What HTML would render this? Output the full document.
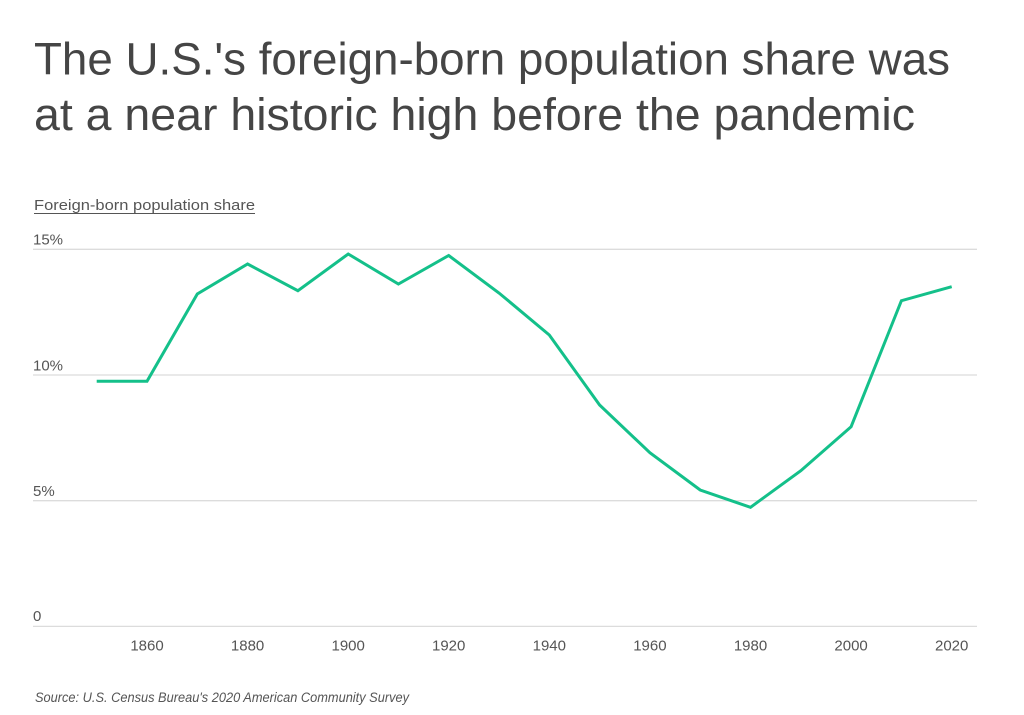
<!DOCTYPE html>
<html>
<head>
<meta charset="utf-8">
<style>
  html, body { margin: 0; padding: 0; background: #ffffff; }
  body { width: 1024px; height: 715px; overflow: hidden; }
  svg { display: block; }
  text { font-family: "Liberation Sans", Arial, sans-serif; }
</style>
</head>
<body>
<svg width="1024" height="715" viewBox="0 0 1024 715" xmlns="http://www.w3.org/2000/svg">
  <rect x="0" y="0" width="1024" height="715" fill="#ffffff"/>

  <!-- Title -->
  <text x="34" y="74.5" font-size="45" fill="#454545" textLength="916" lengthAdjust="spacingAndGlyphs">The U.S.'s foreign-born population share was</text>
  <text x="34" y="130" font-size="45" fill="#454545" textLength="881" lengthAdjust="spacingAndGlyphs">at a near historic high before the pandemic</text>

  <!-- Axis title -->
  <text x="34" y="210" font-size="15" fill="#555555" textLength="221" lengthAdjust="spacingAndGlyphs">Foreign-born population share</text>
  <line x1="34" y1="213.5" x2="255" y2="213.5" stroke="#555555" stroke-width="1"/>

  <!-- Gridlines -->
  <g stroke="#dcdcdc" stroke-width="1.3">
    <line x1="33" y1="249.3" x2="977" y2="249.3"/>
    <line x1="33" y1="375" x2="977" y2="375"/>
    <line x1="33" y1="500.7" x2="977" y2="500.7"/>
    <line x1="33" y1="626.4" x2="977" y2="626.4"/>
  </g>

  <!-- Y labels -->
  <g font-size="15" fill="#555555">
    <text x="33" y="244.5">15%</text>
    <text x="33" y="370.5">10%</text>
    <text x="33" y="496">5%</text>
    <text x="33" y="621">0</text>
  </g>

  <!-- X labels -->
  <g font-size="15" fill="#555555" text-anchor="middle">
    <text x="147" y="650.5">1860</text>
    <text x="247.6" y="650.5">1880</text>
    <text x="348.2" y="650.5">1900</text>
    <text x="448.7" y="650.5">1920</text>
    <text x="549.3" y="650.5">1940</text>
    <text x="649.9" y="650.5">1960</text>
    <text x="750.5" y="650.5">1980</text>
    <text x="851.1" y="650.5">2000</text>
    <text x="951.7" y="650.5">2020</text>
  </g>

  <!-- Series -->
  <polyline fill="none" stroke="#14c08a" stroke-width="3" stroke-linejoin="miter" stroke-linecap="butt"
    points="96.7,381.3 147,381.3 197.3,294 247.6,264 297.9,290.7 348.2,254 398.4,284 448.7,255.5 499,293 549.3,335 599.6,405 649.9,452.7 700.2,490 750.5,507.3 800.8,470.7 851.1,426.7 901.4,300.7 951.7,286.7"/>

  <!-- Source -->
  <text x="35" y="702" font-size="13.5" font-style="italic" fill="#555555" textLength="374" lengthAdjust="spacingAndGlyphs">Source:  U.S. Census Bureau's 2020 American Community Survey</text>
</svg>
</body>
</html>
